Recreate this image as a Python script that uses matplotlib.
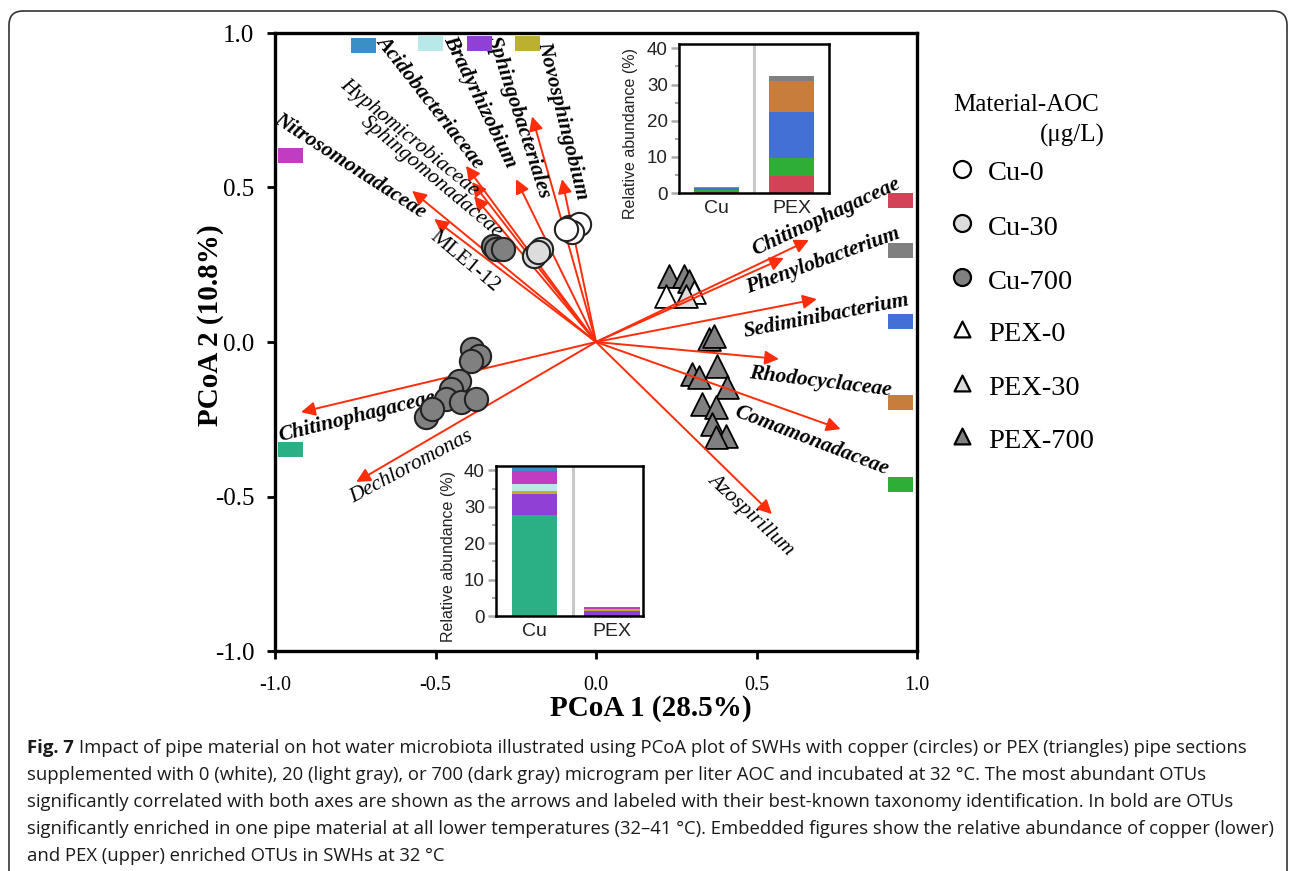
import matplotlib
matplotlib.use('Agg')
import matplotlib.pyplot as plt
import numpy as np
from matplotlib.patches import Rectangle, FancyBboxPatch

plt.rcParams['axes.unicode_minus'] = False

SERIF = 'Liberation Serif'
SANS = 'Liberation Sans'
RED = '#ff2d0a'

# ---- PCoA sample scores ----
cu0_x = [-0.084, -0.053, -0.075, -0.093]
cu0_y = [0.372, 0.382, 0.356, 0.366]
cu30_x = [-0.193, -0.171, -0.180]
cu30_y = [0.278, 0.300, 0.290]
cu700_x = [-0.32, -0.31, -0.29, -0.386, -0.364, -0.389, -0.427, -0.452, -0.467, -0.42, -0.374, -0.53, -0.51]
cu700_y = [0.31, 0.30, 0.30, -0.023, -0.045, -0.061, -0.126, -0.152, -0.184, -0.194, -0.184, -0.243, -0.217]
pex0_x = [0.218, 0.305]
pex0_y = [0.149, 0.162]
pex30_x = [0.28]
pex30_y = [0.149]
pex700_x = [0.227, 0.274, 0.29, 0.352, 0.367, 0.377, 0.30, 0.32, 0.408, 0.33, 0.373, 0.36, 0.405, 0.373]
pex700_y = [0.214, 0.214, 0.197, 0.01, 0.02, -0.078, -0.104, -0.113, -0.146, -0.2, -0.21, -0.265, -0.304, -0.307]

# ---- OTU arrows (tip coordinates) ----
otu_names = ['Chitinophagaceae', 'Phenylobacterium', 'Sediminibacterium', 'Rhodocyclaceae',
             'Comamonadaceae', 'Azospirillum', 'Chitinophagaceae', 'Dechloromonas',
             'Nitrosomonadaceae', 'MLE1-12', 'Hyphomicrobiaceae', 'Sphingomonadaceae',
             'Acidobacteriaceae', 'Bradyrhizobium', 'Sphingobacteriales', 'Novosphingobium']
otu_x = [0.663, 0.585, 0.688, 0.570, 0.762, 0.548, -0.919, -0.747,
         -0.573, -0.504, -0.386, -0.380, -0.405, -0.249, -0.199, -0.106]
otu_y = [0.330, 0.272, 0.139, -0.055, -0.282, -0.557, -0.227, -0.453,
         0.489, 0.398, 0.518, 0.472, 0.570, 0.527, 0.730, 0.527]
otu_bold = [True, True, True, True, True, False, True, False,
            True, False, False, False, True, True, True, True]
# label centre (data units) and rotation
lab_x = [0.717, 0.707, 0.717, 0.700, 0.670, 0.483, -0.745, -0.576,
         -0.766, -0.410, -0.583, -0.514, -0.517, -0.361, -0.243, -0.103]
lab_y = [0.405, 0.262, 0.084, -0.129, -0.320, -0.560, -0.243, -0.405,
         0.570, 0.259, 0.660, 0.534, 0.777, 0.777, 0.725, 0.718]
lab_rot = [25, 20, 11, -7, -21, -43, 14, 28, -33, -40, -39.5, -40, -52, -64, -72, -76]

# ---- inset bars ----
bar_cats = ['Cu', 'PEX']
pex_taxa_colors = ['#d24358', '#2eae36', '#4270d5', '#c87d3c', '#808080']
pex_taxa_cu = [0.3, 0.4, 0.7, 0.2, 0.05]
pex_taxa_pex = [4.8, 5.0, 12.7, 8.5, 1.3]
cu_taxa_colors = ['#2bb086', '#9040d4', '#bcb030', '#b8e8e8', '#c03cc0', '#3a8fc4']
cu_taxa_cu = [27.7, 5.8, 0.8, 1.9, 3.7, 0.8]
cu_taxa_pex = [0.0, 1.4, 0.5, 0.1, 0.5, 0.05]

legend_labels = ['Cu-0', 'Cu-30', 'Cu-700', 'PEX-0', 'PEX-30', 'PEX-700']
legend_markers = ['o', 'o', 'o', '^', '^', '^']
legend_fills = ['white', '#dcdcdc', '#808080', 'white', '#dcdcdc', '#808080']

caption = [
    'Impact of pipe material on hot water microbiota illustrated using PCoA plot of SWHs with copper (circles) or PEX (triangles) pipe sections',
    'supplemented with 0 (white), 20 (light gray), or 700 (dark gray) microgram per liter AOC and incubated at 32 \u00b0C. The most abundant OTUs',
    'significantly correlated with both axes are shown as the arrows and labeled with their best-known taxonomy identification. In bold are OTUs',
    'significantly enriched in one pipe material at all lower temperatures (32\u201341 \u00b0C). Embedded figures show the relative abundance of copper (lower)',
    'and PEX (upper) enriched OTUs in SWHs at 32 \u00b0C',
]

W, H = 1290, 871
fig = plt.figure(figsize=(W / 100, H / 100), dpi=100)


def fbox(x0, y0, x1, y1):
    return [x0 / W, 1 - y1 / H, (x1 - x0) / W, (y1 - y0) / H]


# ---- main PCoA axes ----
ax = fig.add_axes(fbox(275, 33, 917, 651))
ax.set_xlim(-1, 1)
ax.set_ylim(-1, 1)
ticks = [-1.0, -0.5, 0.0, 0.5, 1.0]
ax.set_xticks(ticks)
ax.set_yticks(ticks)
ax.set_xticklabels(['%.1f' % t for t in ticks], fontfamily=SERIF, fontsize=14.5)
ax.set_yticklabels(['%.1f' % t for t in ticks], fontfamily=SERIF, fontsize=18)
ax.tick_params(direction='out', length=6, width=2)
ax.tick_params(axis='x', pad=12)
ax.tick_params(axis='y', pad=9)
for s in ax.spines.values():
    s.set_linewidth(2.4)

for x, y in zip(otu_x, otu_y):
    ax.annotate('', xy=(x, y), xytext=(0, 0),
                arrowprops=dict(arrowstyle='-|>', color=RED, lw=1.4,
                                mutation_scale=21, shrinkA=0, shrinkB=0),
                zorder=3)

for name, x, y, r, b in zip(otu_names, lab_x, lab_y, lab_rot, otu_bold):
    style = 'normal' if name == 'MLE1-12' else 'italic'
    ax.text(x, y, name, rotation=r, rotation_mode='anchor', ha='center', va='center',
            fontfamily=SERIF, fontsize=15.5, fontweight='bold' if b else 'normal',
            fontstyle=style, zorder=4)

ax.scatter(pex700_x, pex700_y, marker='^', s=270, c='#808080', edgecolors='black', linewidths=1.3, zorder=2)
ax.scatter(pex0_x, pex0_y, marker='^', s=270, c='white', edgecolors='black', linewidths=1.3, zorder=2)
ax.scatter(pex30_x, pex30_y, marker='^', s=270, c='#dcdcdc', edgecolors='black', linewidths=1.3, zorder=2)
ax.scatter(cu700_x, cu700_y, marker='o', s=280, c='#808080', edgecolors='#222222', linewidths=1.5, zorder=5)
ax.scatter(cu30_x, cu30_y, marker='o', s=280, c='#dcdcdc', edgecolors='#222222', linewidths=1.5, zorder=5)
ax.scatter(cu0_x, cu0_y, marker='o', s=280, c='white', edgecolors='#222222', linewidths=1.5, zorder=5)

fig.text(651 / W, 1 - 708 / H, 'PCoA 1 (28.5%)', ha='center', va='center',
         fontfamily=SERIF, fontsize=21, fontweight='bold')
fig.text(211 / W, 1 - 325 / H, 'PCoA 2 (10.8%)', ha='center', va='center', rotation=90,
         fontfamily=SERIF, fontsize=21, fontweight='bold')


def inset(box, colors, cu_vals, pex_vals, xmax, widths):
    ia = fig.add_axes(fbox(*box), zorder=6)
    ia.set_facecolor('white')
    xpos = np.arange(len(bar_cats))
    for i, vals in enumerate([cu_vals, pex_vals]):
        bottom = 0
        for v, c in zip(vals, colors):
            ia.bar(xpos[i], v, bottom=bottom, width=widths[i], color=c, linewidth=0)
            bottom += v
    ia.axvline(0.5, color='#c8c8c8', lw=2.2)
    ia.set_xlim(-0.5, xmax)
    ia.set_ylim(0, 41.2)
    ia.set_yticks([0, 10, 20, 30, 40])
    ia.set_yticks([5, 15, 25, 35], minor=True)
    ia.set_xticks(xpos)
    ia.set_xticklabels(bar_cats, fontfamily=SANS, fontsize=14, color='#222222')
    ia.tick_params(axis='x', length=0, pad=5)
    ia.tick_params(axis='y', which='major', length=6, width=1.8, color='#aaaaaa',
                   labelsize=13.5, labelcolor='#222222', pad=2)
    ia.tick_params(axis='y', which='minor', length=3, width=1.5, color='#aaaaaa')
    for lbl in ia.get_yticklabels():
        lbl.set_fontfamily(SANS)
    for s in ia.spines.values():
        s.set_linewidth(1.8)
    ia.set_ylabel('Relative abundance (%)', fontfamily=SANS, fontsize=11.5, color='#222222')
    ia.yaxis.set_label_coords(-0.27, 0.40)
    return ia


inset((679, 44, 829, 193), pex_taxa_colors, pex_taxa_cu, pex_taxa_pex, 1.5, [0.6, 0.6])
inset((496, 466, 643, 616), cu_taxa_colors, cu_taxa_cu, cu_taxa_pex, 1.4, [0.58, 0.72])

# ---- overlay in pixel units: swatches, legend, frame, caption ----
ov = fig.add_axes([0, 0, 1, 1], zorder=10)
ov.set_xlim(0, W)
ov.set_ylim(H, 0)
ov.axis('off')

swatches = [(351, 38, '#3a8fc4'), (418, 36, '#b8e8e8'), (467, 36, '#9040d4'), (515, 36, '#bcb030'),
            (278, 148, '#c03cc0'), (278, 442, '#2bb086'),
            (888, 193, '#d24358'), (888, 243, '#808080'), (888, 314, '#4270d5'),
            (888, 395, '#c87d3c'), (888, 477, '#2eae36')]
for sx, sy, sc in swatches:
    ov.add_patch(Rectangle((sx, sy), 25, 15, color=sc, lw=0))

ov.text(953, 105, 'Material-AOC', ha='left', va='center', fontfamily=SERIF, fontsize=18)
ov.text(1105, 135, '(\u03bcg/L)', ha='right', va='center', fontfamily=SERIF, fontsize=18)
leg_y = [173, 227, 281, 333, 387, 440]
for lab, m, f, y in zip(legend_labels, legend_markers, legend_fills, leg_y):
    ov.scatter([962], [y - 4], marker=m, s=150 if m == 'o' else 130, c=f,
               edgecolors='black', linewidths=1.6, clip_on=False)
    ov.text(988, y + 1, lab, ha='left', va='center', fontfamily=SERIF, fontsize=20.5)

ov.add_patch(FancyBboxPatch((9, 11), 1278, 950, boxstyle='round,pad=0,rounding_size=14',
                            fill=False, ec='#333333', lw=1.2, clip_on=False))

# caption: fit the longest line to the measured width
renderer = fig.canvas.get_renderer()
probe = ov.text(27, 829, caption[3], fontfamily='Open Sans', fontsize=12, va='center')
w = probe.get_window_extent(renderer).width
probe.remove()
cfs = 12 * 1236 / w
line_y = [748, 775, 802, 829, 856]
head = ov.text(27, line_y[0], 'Fig. 7', fontfamily='Open Sans', fontsize=cfs,
               fontweight='bold', va='center', color='#1a1a1a')
hw = head.get_window_extent(renderer).width
ov.text(27 + hw + cfs * 0.35, line_y[0], caption[0], fontfamily='Open Sans', fontsize=cfs,
        va='center', color='#1a1a1a')
for txt, y in zip(caption[1:], line_y[1:]):
    ov.text(27, y, txt, fontfamily='Open Sans', fontsize=cfs, va='center', color='#1a1a1a')

fig.savefig('out.png', dpi=100)
